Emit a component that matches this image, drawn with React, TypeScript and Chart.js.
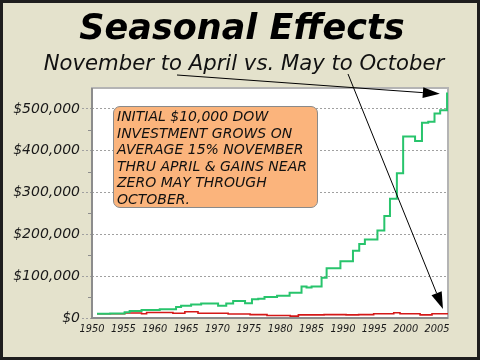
import React, { useEffect, useRef } from 'react';
import { Chart, registerables } from 'chart.js';

Chart.register(...registerables);

const FONT = '"DejaVu Sans", Verdana, sans-serif';

const titleText = 'Seasonal Effects';
const subtitleText = 'November to April vs. May to October';
const noteLines = [
  'INITIAL $10,000 DOW',
  'INVESTMENT GROWS ON',
  'AVERAGE 15% NOVEMBER',
  'THRU APRIL & GAINS NEAR',
  'ZERO MAY THROUGH',
  'OCTOBER.',
];

// November–April strategy: time of each step (year) and the value after the step
const novAprX = [
  1950.8, 1952.9, 1955.2, 1956.0, 1957.9, 1960.8, 1963.4, 1964.2, 1965.8, 1967.4,
  1970.1, 1971.4, 1972.5, 1974.4, 1975.5, 1976.5, 1977.5, 1979.5, 1981.5, 1983.4,
  1984.2, 1985.0, 1986.6, 1987.4, 1989.6, 1991.6, 1992.6, 1993.5, 1995.5, 1996.6,
  1997.5, 1998.6, 1999.6, 2001.5, 2002.6, 2003.6, 2004.6, 2005.5, 2006.6, 2006.75,
];
const novAprValues = [
  10000, 11000, 14000, 16500, 19000, 21000, 26500, 29000, 32000, 34500,
  29000, 34500, 40500, 35000, 45000, 46000, 50000, 53500, 60500, 75500,
  73000, 75500, 96500, 119000, 136000, 161000, 177000, 188000, 209000, 244000,
  285000, 346000, 434000, 423000, 467000, 469000, 489000, 497000, 537000, 537000,
];

// May–October strategy
const mayOctX = [
  1950.8, 1955.2, 1957.9, 1958.7, 1962.9, 1964.8, 1966.9, 1971.7, 1975.2, 1977.9,
  1981.6, 1982.9, 1987.0, 1990.5, 1992.5, 1994.9, 1998.1, 1999.1, 2002.3, 2004.2,
  2006.75,
];
const mayOctValues = [
  10000, 12000, 10000, 13000, 11500, 15000, 11500, 9500, 8000, 6000,
  4500, 7500, 8000, 7500, 8000, 10000, 12500, 10000, 7500, 10000,
  10000,
];

const xTickYears = [1950, 1955, 1960, 1965, 1970, 1975, 1980, 1985, 1990, 1995, 2000, 2005];
const yTickValues = [0, 100000, 200000, 300000, 400000, 500000];
const yMinorTicks = [50000, 150000, 250000, 350000, 450000];

// arrow targets (data space)
const arrowTargets = [
  { year: 2005.45, value: 536000 },
  { year: 2005.95, value: 21500 },
];
const arrowStarts = [
  { x: 177, y: 75 },
  { x: 348, y: 74 },
];

export default function App() {
  const ref = useRef<HTMLCanvasElement>(null);

  useEffect(() => {
    const framePlugin = {
      id: 'framePlugin',
      beforeDraw(chart: any) {
        const { ctx, chartArea: a, width, height } = chart;
        ctx.save();
        ctx.fillStyle = '#e4e2cc';
        ctx.fillRect(0, 0, width, height);
        ctx.fillStyle = '#ffffff';
        ctx.fillRect(a.left, a.top, a.right - a.left, a.bottom - a.top);
        ctx.restore();
      },
      beforeDatasetsDraw(chart: any) {
        const { ctx, chartArea: a } = chart;
        const y = chart.scales.y;
        ctx.save();
        ctx.strokeStyle = '#b4b4b4';
        ctx.lineWidth = 2;
        ctx.strokeRect(a.left, a.top, a.right - a.left, a.bottom - a.top);
        ctx.strokeStyle = '#8c8c8c';
        ctx.beginPath();
        ctx.moveTo(a.left, a.top);
        ctx.lineTo(a.left, a.bottom);
        ctx.lineTo(a.right, a.bottom);
        ctx.stroke();
        ctx.lineWidth = 1;
        ctx.strokeStyle = '#8c8c8c';
        for (const v of yMinorTicks) {
          const py = Math.round(y.getPixelForValue(v)) + 0.5;
          ctx.beginPath();
          ctx.moveTo(a.left - 4, py);
          ctx.lineTo(a.left, py);
          ctx.stroke();
        }
        ctx.restore();
      },
      afterDraw(chart: any) {
        const { ctx } = chart;
        const xs = chart.scales.x;
        const ys = chart.scales.y;
        ctx.save();
        arrowTargets.forEach((t, i) => {
          const s = arrowStarts[i];
          const tx = xs.getPixelForValue(t.year);
          const ty = ys.getPixelForValue(t.value);
          const ang = Math.atan2(ty - s.y, tx - s.x);
          const len = 17;
          const hw = 5.5;
          const bx = tx - len * Math.cos(ang);
          const by = ty - len * Math.sin(ang);
          ctx.strokeStyle = '#000';
          ctx.lineWidth = 1;
          ctx.beginPath();
          ctx.moveTo(s.x, s.y);
          ctx.lineTo(bx, by);
          ctx.stroke();
          ctx.fillStyle = '#000';
          ctx.beginPath();
          ctx.moveTo(tx, ty);
          ctx.lineTo(bx + hw * Math.sin(ang), by - hw * Math.cos(ang));
          ctx.lineTo(bx - hw * Math.sin(ang), by + hw * Math.cos(ang));
          ctx.closePath();
          ctx.fill();
        });
        ctx.strokeStyle = '#1e1e1e';
        ctx.lineWidth = 3;
        ctx.strokeRect(1.5, 1.5, chart.width - 3, chart.height - 3);
        ctx.restore();
      },
    };

    const chart = new Chart(ref.current as HTMLCanvasElement, {
      type: 'line',
      data: {
        datasets: [
          {
            label: 'November to April',
            data: novAprX.map((x, i) => ({ x, y: novAprValues[i] })),
            borderColor: '#28c46c',
            borderWidth: 2,
            stepped: 'before',
            pointRadius: 0,
            fill: false,
          },
          {
            label: 'May to October',
            data: mayOctX.map((x, i) => ({ x, y: mayOctValues[i] })),
            borderColor: '#d41818',
            borderWidth: 1.6,
            stepped: 'before',
            pointRadius: 0,
            fill: false,
          },
        ],
      },
      options: {
        animation: false,
        responsive: false,
        layout: { padding: { left: 0, right: 32, top: 88, bottom: 0 } },
        plugins: {
          legend: { display: false },
          tooltip: { enabled: false },
          title: { display: false },
        },
        scales: {
          x: {
            type: 'linear',
            min: 1950,
            max: 2006.75,
            afterBuildTicks: (s: any) => {
              s.ticks = xTickYears.map((v) => ({ value: v }));
            },
            afterFit: (s: any) => {
              s.height = 42;
            },
            grid: { display: false, drawTicks: false },
            border: { display: false },
            ticks: {
              autoSkip: false,
              maxRotation: 0,
              padding: 6,
              color: '#1a1a1a',
              font: { family: FONT, size: 9.8, style: 'italic' },
              callback: (v: any) => String(v),
            },
          },
          y: {
            type: 'linear',
            min: 0,
            max: 550000,
            afterBuildTicks: (s: any) => {
              s.ticks = yTickValues.map((v) => ({ value: v }));
            },
            afterFit: (s: any) => {
              s.width = 92;
            },
            grid: {
              color: '#a0a0a0',
              lineWidth: 1,
              tickLength: 10,
              drawTicks: true,
              tickBorderDash: [2, 2],
              tickColor: '#a0a0a0',
            },
            border: { display: false, dash: [2, 2] },
            ticks: {
              padding: 2,
              color: '#1a1a1a',
              font: { family: FONT, size: 14, style: 'italic' },
              callback: (v: any) => '$' + Number(v).toLocaleString('en-US'),
            },
          },
        },
      },
      plugins: [framePlugin],
    } as any);

    return () => chart.destroy();
  }, []);

  return (
    <div style={{ position: 'absolute', left: 0, top: 0, width: 480, height: 360, overflow: 'hidden' }}>
      <canvas ref={ref} width={480} height={360} style={{ display: 'block', width: 480, height: 360 }} />
      <div
        style={{
          position: 'absolute', left: 2, width: 480, top: 10, textAlign: 'center',
          fontFamily: FONT, fontWeight: 'bold', fontStyle: 'italic', fontSize: 35,
          lineHeight: '35px', color: '#000', whiteSpace: 'nowrap',
        }}
      >
        {titleText}
      </div>
      <div
        style={{
          position: 'absolute', left: 4, width: 480, top: 52, textAlign: 'center',
          fontFamily: FONT, fontStyle: 'italic', fontSize: 21.2,
          lineHeight: '21.2px', color: '#111', whiteSpace: 'nowrap',
        }}
      >
        {subtitleText}
      </div>
      <div
        style={{
          position: 'absolute', left: 113, top: 106, width: 205, height: 102,
          boxSizing: 'border-box', background: '#fbb47c', border: '1px solid #8a8a8a',
          borderRadius: 7, padding: '1px 0 0 3px', fontFamily: FONT, fontStyle: 'italic',
          fontSize: 14, lineHeight: '16.6px', color: '#111', whiteSpace: 'nowrap',
        }}
      >
        {noteLines.map((l, i) => (
          <div key={i}>{l}</div>
        ))}
      </div>
    </div>
  );
}
